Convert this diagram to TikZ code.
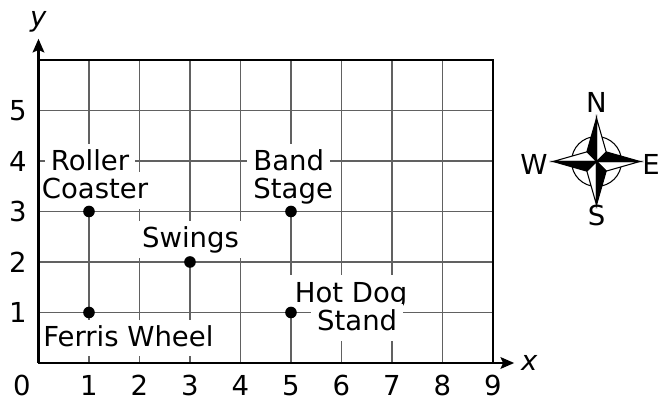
\documentclass[tikz,border=0pt]{standalone}
\usepackage{fontspec}
\setmainfont{DejaVu Sans}
\usetikzlibrary{arrows.meta}
\usetikzlibrary{positioning}

\begin{document}
\begin{tikzpicture}[font=\fontsize{15.5}{17}\selectfont,
    place/.style={fill=white, inner sep=0.12cm, text height=0.41cm, text depth=0.08cm},
    spot/.style={circle, fill=black, inner sep=0pt, minimum size=0.23cm},
    gridline/.style={black!62, line width=0.65pt},
    axis/.style={line width=1.4pt, -{Stealth[length=0.27cm, width=0.23cm, inset=0.05cm]}}]

        \useasboundingbox (-0.762,-0.891) rectangle (12.525,7.188);

        \def\xmax{9} % columns of the map
        \def\ymax{6} % rows of the map

        \draw[gridline] (0,0) grid (\xmax,\ymax);
        \draw[line width=0.9pt] (0,\ymax) -- (\xmax,\ymax) -- (\xmax,0);

        % place names, one box per line
        \node[place] (roller) at (1.02, 3.98) {Roller};
        \node[place] (coaster) at (1.12, 3.415) {Coaster};
        \node[place, anchor=west] (band) at (4.13, 3.98) {Band};
        \node[place, anchor=west] (stage) at (4.13, 3.415) {Stage};
        \node[place] (swings) at (3.01, 2.445) {Swings};
        \node[place] (hotdog) at (6.19, 1.37) {Hot Dog};
        \node[place] (stand) at (6.31, 0.81) {Stand};
        \node[place] (ferris) at (1.78, 0.495) {Ferris Wheel};

        % axes
        \coordinate (origin) at (0,0);
        \coordinate (xend) at (9.42,0);
        \coordinate (yend) at (0,6.42);
        \draw[axis] (origin) -- (xend);
        \draw[axis] (origin) -- (yend);
        \node (xlab) at (9.72,0) {\textit{x}};
        \node (ylab) at (0,6.76) {\textit{y}};

        \node (xt0) at (-0.33,-0.44) {0};
        \foreach \i in {1,...,\xmax} {
          \node (xt\i) at (\i,-0.44) {\i};
        }
        \foreach \j in {1,...,5} {
          \node (yt\j) at (-0.41,\j) {\j};
        }

        \node[spot] (rollercoaster) at (1,3) {};
        \node[spot] (bandstage) at (5,3) {};
        \node[spot] (swingset) at (3,2) {};
        \node[spot] (ferriswheel) at (1,1) {};
        \node[spot] (hotdogstand) at (5,1) {};

        % compass rose
        \coordinate (rose) at (11.05,3.99);
        \begin{scope}[shift={(rose)}, line width=0.6pt, line join=miter]
          \draw (0,0) circle (0.495);
          \foreach \a in {0,90,180,270} {
            \filldraw[fill=white] (0,0) -- (\a:0.86) -- (\a-45:0.27) -- cycle;
            \filldraw[fill=black] (0,0) -- (\a:0.86) -- (\a+45:0.27) -- cycle;
          }
        \end{scope}
        \node (north) at (11.05,5.16) {N};
        \node (south) at (11.05,2.92) {S};
        \node (west) at (9.81,3.94) {W};
        \node (east) at (12.13,3.94) {E};

\end{tikzpicture}
\end{document}
